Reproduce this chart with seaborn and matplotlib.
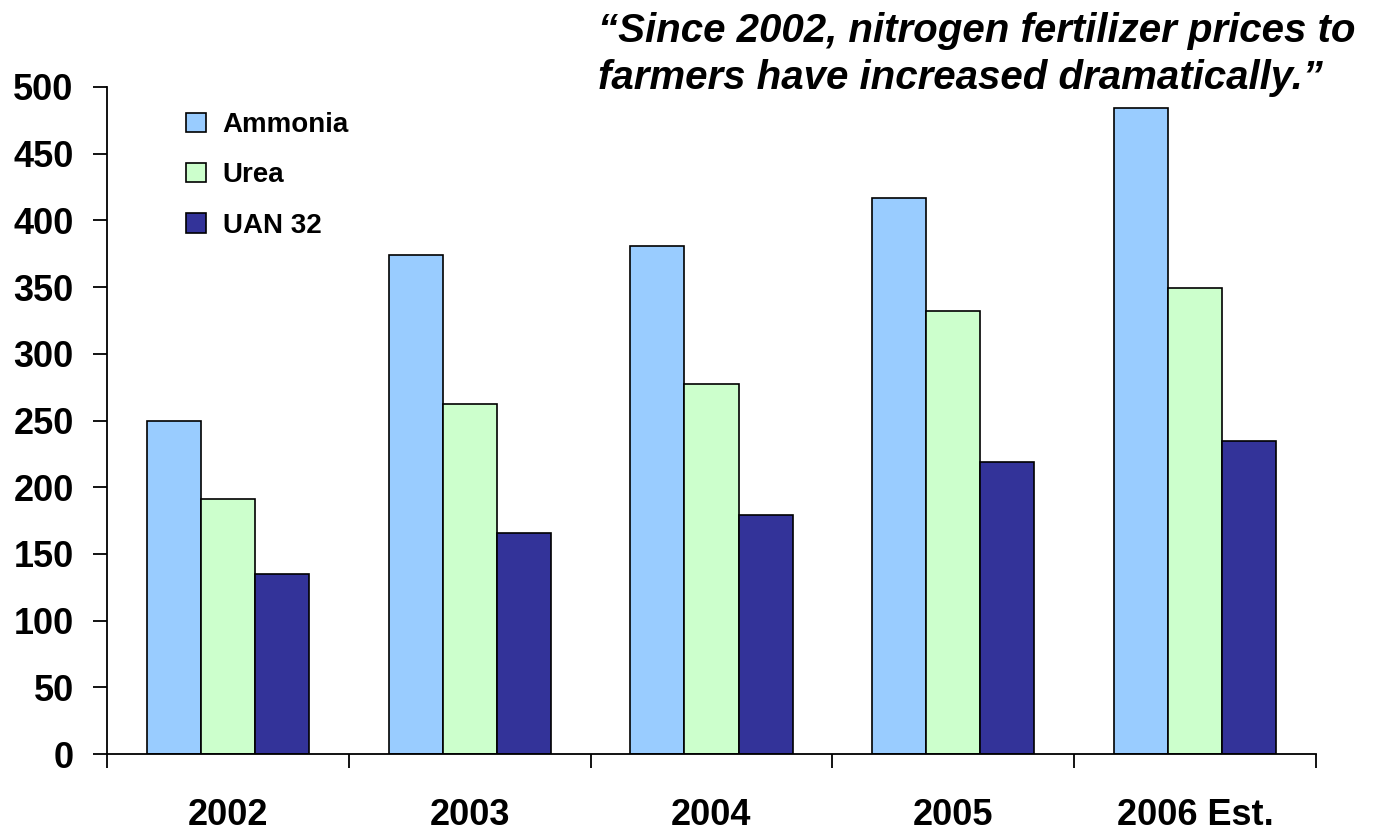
import pandas as pd
import numpy as np
import matplotlib.pyplot as plt
import seaborn as sns

sns.set_theme(style="white")
plt.rcParams['font.family'] = ['Liberation Sans', 'DejaVu Sans']
plt.rcParams['font.weight'] = 'bold'
plt.rcParams['text.color'] = 'black'
plt.rcParams['xtick.color'] = 'black'
plt.rcParams['ytick.color'] = 'black'

# 데이터
years = ['2002', '2003', '2004', '2005', '2006 Est.']
ammonia = [250, 374, 381, 417, 484]
urea = [191, 262, 277, 332, 349]
uan32 = [135, 166, 179, 219, 235]
series = ['Ammonia', 'Urea', 'UAN 32']
colors = ['#99CCFF', '#CCFFCC', '#333399']

df = pd.DataFrame({
    'year': years * 3,
    'price': ammonia + urea + uan32,
    'product': [s for s in series for _ in years],
})

fig = plt.figure(figsize=(13.74, 8.32), dpi=100)
ax = fig.add_axes([107 / 1374, 78 / 832, (1316 - 107) / 1374, (754 - 87) / 832])

sns.barplot(data=df, x='year', y='price', hue='product', palette=colors,
            saturation=1, width=0.67, edgecolor='black', linewidth=1.2,
            ax=ax, legend=True)

ax.set_ylim(0, 500)
ax.set_xlim(-0.5, 4.5)
ax.set_yticks(range(0, 501, 50))
ax.set_xlabel('')
ax.set_ylabel('')
sns.despine(ax=ax)
for s in ['left', 'bottom']:
    ax.spines[s].set_color('black')
    ax.spines[s].set_linewidth(1.3)

ax.tick_params(axis='y', which='major', direction='out', length=10, width=1.3,
               color='black', labelsize=26, pad=14, left=True)
ax.tick_params(axis='x', which='major', length=0, labelsize=26, pad=32)
ax.set_xticks(np.arange(-0.5, 5, 1), minor=True)
ax.tick_params(axis='x', which='minor', direction='out', length=10, width=1.3,
               color='black', bottom=True)
for lbl in ax.get_xticklabels() + ax.get_yticklabels():
    lbl.set_fontweight('bold')
    lbl.set_color('black')

leg = ax.legend(loc='upper left', bbox_to_anchor=(0.045, 1.0), frameon=False,
                fontsize=20, handlelength=0.7, handleheight=0.7,
                labelspacing=0.88, handletextpad=0.6)
for t in leg.get_texts():
    t.set_fontweight('bold')
    t.set_color('black')

fig.text(598 / 1374, 0.935, '\u201cSince 2002, nitrogen fertilizer prices to\nfarmers have increased dramatically.\u201d',
         ha='left', va='center', fontsize=29, fontweight='bold', fontstyle='italic',
         linespacing=1.3, color='black', multialignment='left')

fig.savefig('out.png', dpi=100)
